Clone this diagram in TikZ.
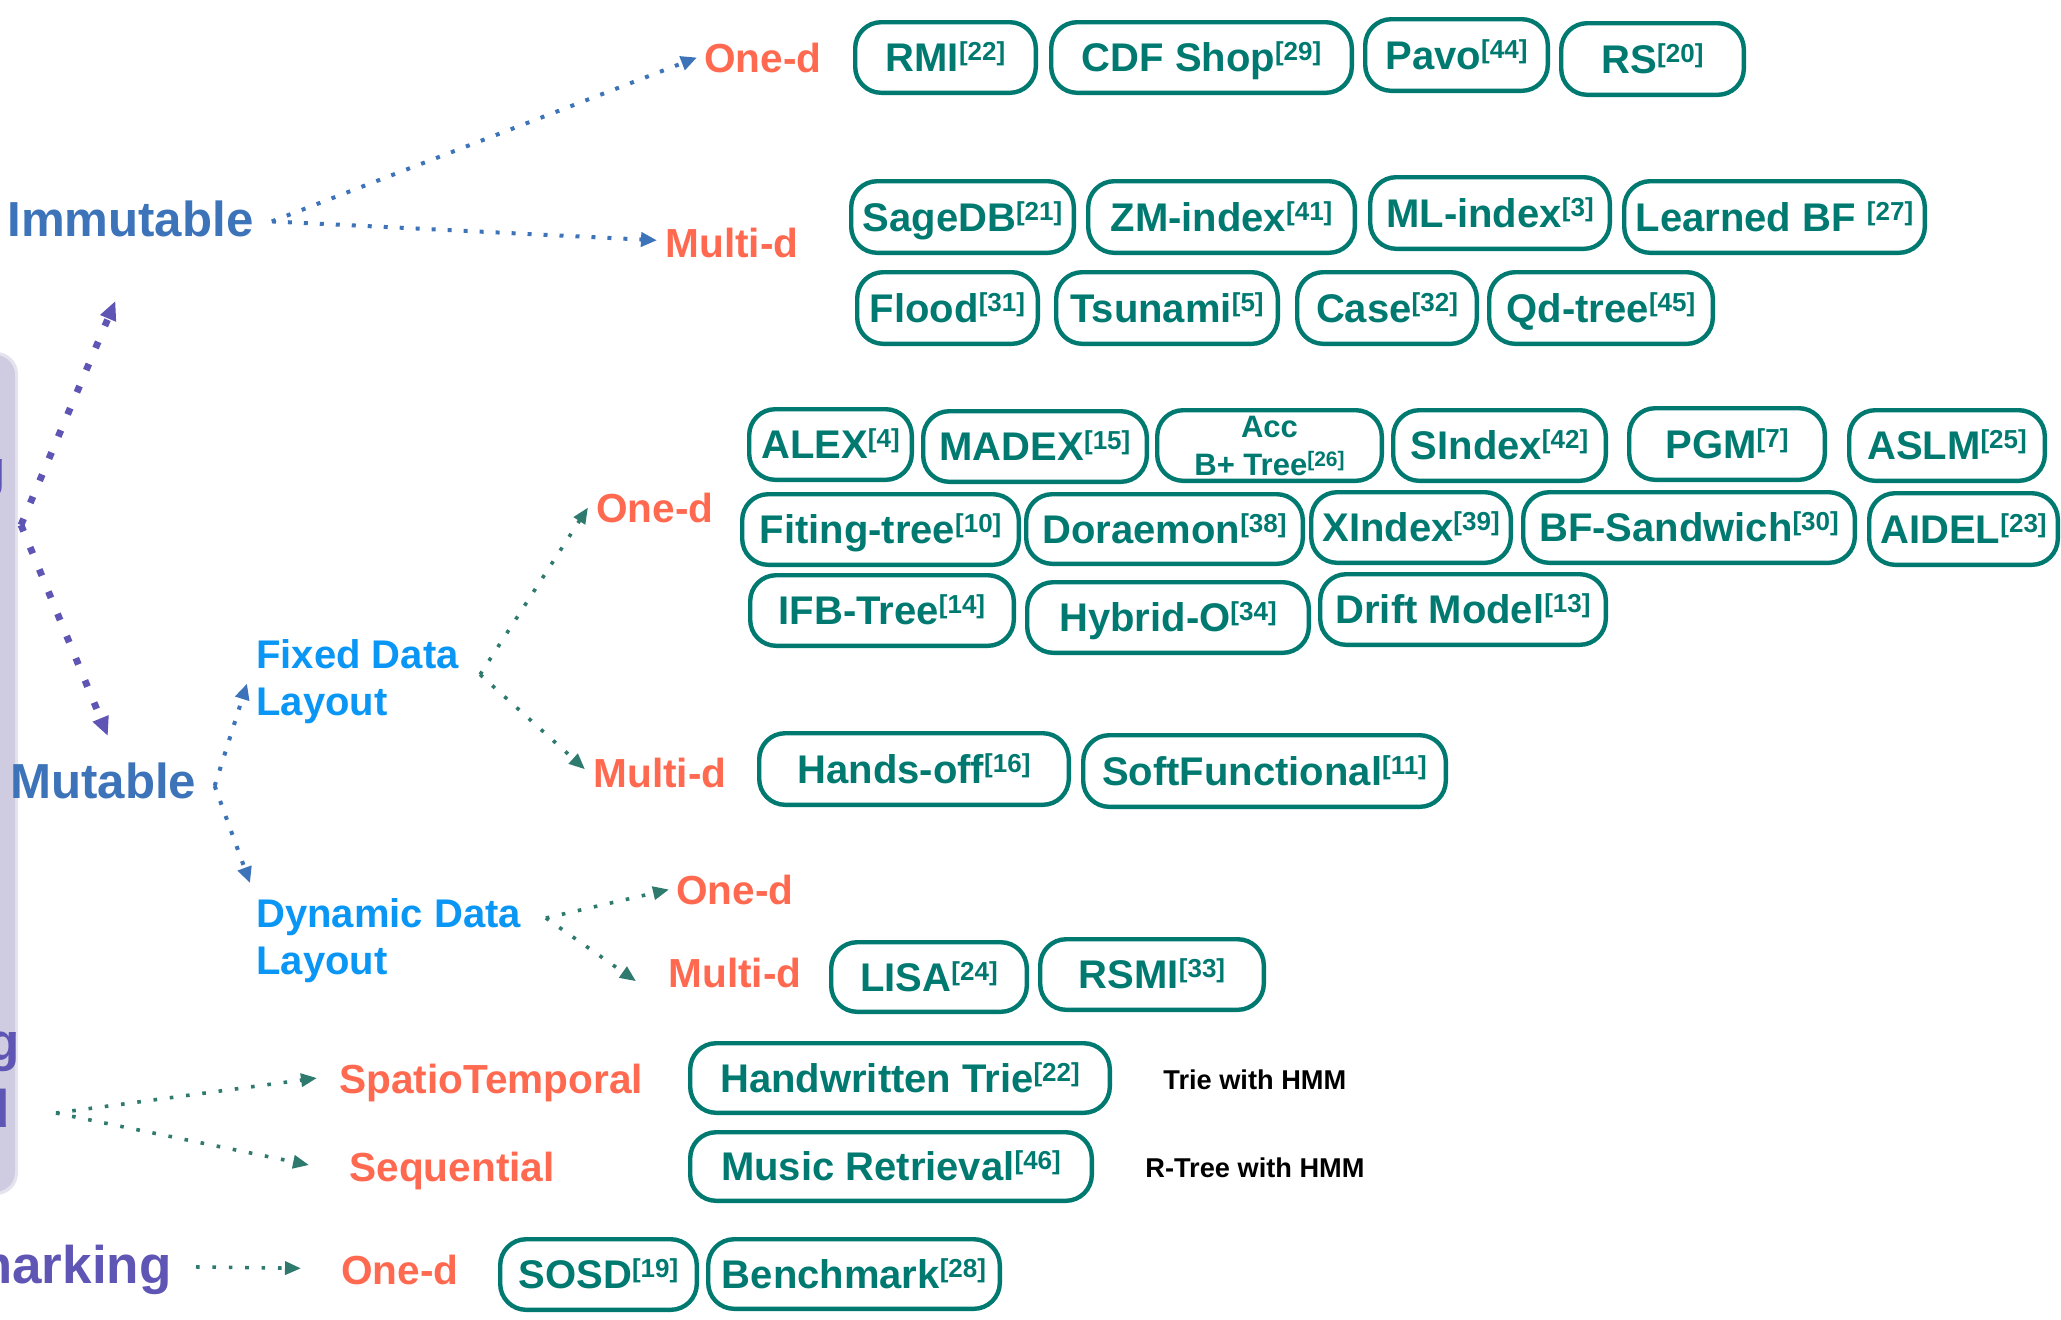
\documentclass[tikz,border=0pt]{standalone}
\usepackage{fontspec}
\setmainfont{Liberation Sans}
\usetikzlibrary{arrows.meta}

\definecolor{tealbox}{RGB}{0,122,112}
\definecolor{lblorange}{RGB}{255,105,80}
\definecolor{stblue}{RGB}{60,115,185}
\definecolor{skyblue}{RGB}{10,150,245}
\definecolor{purpl}{RGB}{95,85,180}
\definecolor{arrteal}{RGB}{47,122,110}
\definecolor{panelc}{RGB}{207,204,225}

% citation marks
\newcommand\rf[1]{\raisebox{5.5pt}{\fontsize{13}{13}\selectfont[#1]}}
\newcommand\rfs[1]{\raisebox{4.5pt}{\fontsize{10.5}{10.5}\selectfont[#1]}}
% method box given by its outer corners (x1,y1) (x2,y2)
\newcommand\lbox[6]{\node[lbox, minimum width={(#4-#2)*0.5pt-2.2pt},
  minimum height={(#5-#3)*0.5pt-2.2pt}] (#1) at ({(#2+#4)/2},{(#3+#5)/2}) {#6};}

\begin{document}
\begin{tikzpicture}[x=0.5pt,y=-0.5pt,
  lbox/.style={draw=tealbox, line width=2.2pt, rounded corners=13pt, text=tealbox,
    font=\bfseries\fontsize{20}{24}\selectfont, text height=14.3pt, text depth=0pt,
    inner xsep=4pt, inner ysep=0pt},
  toplbl/.style={anchor=base west, inner sep=0pt, text=stblue,
    font=\bfseries\fontsize{24.6}{28}\selectfont},
  dimlbl/.style={anchor=base west, inner sep=0pt, text=lblorange,
    font=\bfseries\fontsize{20.3}{23.5}\selectfont},
  laylbl/.style={anchor=north west, inner sep=0pt, align=left, text=skyblue,
    font=\bfseries\fontsize{20}{23.5}\selectfont},
  purplbl/.style={anchor=base east, inner sep=0pt, text=purpl,
    font=\bfseries\fontsize{26.5}{31}\selectfont},
  notelbl/.style={anchor=base west, inner sep=0pt, text=black,
    font=\bfseries\fontsize{13.6}{16}\selectfont},
  blar/.style={draw=stblue, line width=2pt, dash pattern=on 2pt off 6pt,
    -{Triangle[length=8pt,width=7pt]}},
  tlar/.style={draw=arrteal, line width=1.8pt, dash pattern=on 1.8pt off 6.4pt,
    -{Triangle[length=8pt,width=6.5pt]}},
  puar/.style={draw=purpl, line width=3.4pt, dash pattern=on 3.4pt off 8.6pt,
    -{Triangle[length=9.5pt,width=8pt]}}]
\useasboundingbox (0,0) rectangle (2061,1319);
\clip (0,0) rectangle (2061,1319);

% side panel
\fill[panelc!55] (-60,352) [rounded corners=11pt] rectangle (18,1195);
\fill[panelc] (-60,355) [rounded corners=10pt] rectangle (15,1192);
\node[purplbl] (fragg1) at (6,487) {g};
\node[purplbl] (fragg2) at (20,1060) {g};
\node[purplbl] (fragd) at (10,1127) {d};
\node[purplbl] (bench) at (172,1283) {Benchmarking};
\coordinate (pfork) at (21,525);
\coordinate (tfork) at (56,1113);

% category labels
\node[toplbl] (imm) at (7,236) {Immutable};
\node[toplbl] (mut) at (10,798) {Mutable};
\node[laylbl] (fix) at (256,639) {Fixed Data\\Layout};
\node[laylbl] (dyn) at (256,898) {Dynamic Data\\Layout};
\node[dimlbl] (od1) at (704,72) {One-d};
\node[dimlbl] (md1) at (665,257) {Multi-d};
\node[dimlbl] (od2) at (596,522) {One-d};
\node[dimlbl] (md2) at (593,787) {Multi-d};
\node[dimlbl] (od3) at (676,904) {One-d};
\node[dimlbl] (md3) at (668,987) {Multi-d};
\node[dimlbl] (spt) at (339,1093) {SpatioTemporal};
\node[dimlbl] (seq) at (349,1181) {Sequential};
\node[dimlbl] (od4) at (341,1284) {One-d};
\node[notelbl] (note1) at (1163,1089) {Trie with HMM};
\node[notelbl] (note2) at (1145,1177) {R-Tree with HMM};

% immutable, one-dimensional
\lbox{rmi}{853}{20}{1038}{95}{RMI\rf{22}}
\lbox{cdf}{1049}{20}{1354}{95}{CDF Shop\rf{29}}
\lbox{pavo}{1363}{17}{1550}{93}{Pavo\rf{44}}
\lbox{rs}{1559}{21}{1746}{97}{RS\rf{20}}
% immutable, multi-dimensional
\lbox{sagedb}{849}{179}{1076}{255}{SageDB\rf{21}}
\lbox{zmidx}{1086}{179}{1357}{255}{ZM-index\rf{41}}
\lbox{mlidx}{1368}{175}{1612}{251}{ML-index\rf{3}}
\lbox{lbf}{1622}{179}{1927}{255}{Learned BF \rf{27}}
\lbox{flood}{855}{270}{1040}{346}{Flood\rf{31}}
\lbox{tsunami}{1054}{270}{1280}{346}{Tsunami\rf{5}}
\lbox{case}{1295}{270}{1479}{346}{Case\rf{32}}
\lbox{qdtree}{1487}{270}{1715}{346}{Qd-tree\rf{45}}
% fixed layout, one-dimensional
\lbox{alex}{747}{407}{914}{482}{ALEX\rf{4}}
\lbox{madex}{921}{409}{1149}{484}{MADEX\rf{15}}
\node[lbox, align=center, text height={}, text depth={},
  font=\bfseries\fontsize{15.5}{19}\selectfont,
  minimum width={229*0.5pt-2.2pt}, minimum height={75*0.5pt-2.2pt}]
  (accbt) at (1269.5,445.5) {Acc\\B+ Tree\rfs{26}};
\lbox{sindex}{1391}{408}{1608}{483}{SIndex\rf{42}}
\lbox{pgm}{1627}{406}{1827}{482}{PGM\rf{7}}
\lbox{aslm}{1847}{408}{2047}{483}{ASLM\rf{25}}
\lbox{fiting}{740}{492}{1021}{567}{Fiting-tree\rf{10}}
\lbox{doraemon}{1024}{492}{1305}{566}{Doraemon\rf{38}}
\lbox{xindex}{1309}{490}{1513}{565}{XIndex\rf{39}}
\lbox{bfs}{1521}{490}{1857}{565}{BF-Sandwich\rf{30}}
\lbox{aidel}{1867}{491}{2060}{567}{AIDEL\rf{23}}
\lbox{ifb}{748}{573}{1016}{648}{IFB-Tree\rf{14}}
\lbox{hybrid}{1025}{580}{1311}{655}{Hybrid-O\rf{34}}
\lbox{drift}{1318}{572}{1608}{647}{Drift Model\rf{13}}
% fixed layout, multi-dimensional
\lbox{handsoff}{757}{731}{1071}{807}{Hands-off\rf{16}}
\lbox{softf}{1081}{733}{1448}{809}{SoftFunctional\rf{11}}
% dynamic layout, multi-dimensional
\lbox{lisa}{829}{940}{1029}{1014}{LISA\rf{24}}
\lbox{rsmi}{1038}{937}{1266}{1012}{RSMI\rf{33}}
% spatio-temporal and sequential
\lbox{hwtrie}{688}{1041}{1112}{1115}{Handwritten Trie\rf{22}}
\lbox{music}{688}{1130}{1094}{1203}{Music Retrieval\rf{46}}
% benchmarks
\lbox{sosd}{498}{1237}{699}{1312}{SOSD\rf{19}}
\lbox{bmark}{706}{1237}{1002}{1311}{Benchmark\rf{28}}

% connectors
\draw[puar] (pfork) -- ([xshift=-7.5pt,yshift=-32pt]imm.south);
\draw[puar] (pfork) -- ([xshift=2.25pt,yshift=13pt]mut.north);

\draw[blar] ([xshift=9pt,yshift=-1.5pt]imm.east) -- ([xshift=-3.5pt]od1.west);
\draw[blar] ([xshift=9pt,yshift=-1.5pt]imm.east) -- ([xshift=-4pt,yshift=1.1pt]md1.west);
\draw[blar] ([xshift=9pt,yshift=-2.75pt]mut.east) -- ([xshift=-4.5pt,yshift=-1pt]fix.west);
\draw[blar] ([xshift=9pt,yshift=-2.75pt]mut.east) -- ([xshift=-3pt,yshift=7.5pt]dyn.north west);

\draw[tlar] ([xshift=10.5pt,yshift=3.5pt]fix.east) -- ([xshift=-4pt]od2.west);
\draw[tlar] ([xshift=10.5pt,yshift=3.5pt]fix.east) -- ([xshift=-4pt,yshift=1.6pt]md2.west);
\draw[tlar] ([xshift=12.25pt,yshift=-10pt]dyn.north east) -- ([xshift=-3.5pt]od3.west);
\draw[tlar] ([xshift=12.25pt,yshift=-10pt]dyn.north east) -- ([xshift=-16pt,yshift=-4.35pt]md3.west);
\draw[tlar] (tfork) -- ([xshift=-11pt,yshift=2.25pt]spt.west);
\draw[tlar] (tfork) -- ([xshift=-20pt,yshift=2.75pt]seq.west);
\draw[tlar] ([xshift=12pt,yshift=1.25pt]bench.east) -- ([xshift=-20pt,yshift=0.6pt]od4.west);
\end{tikzpicture}
\end{document}
